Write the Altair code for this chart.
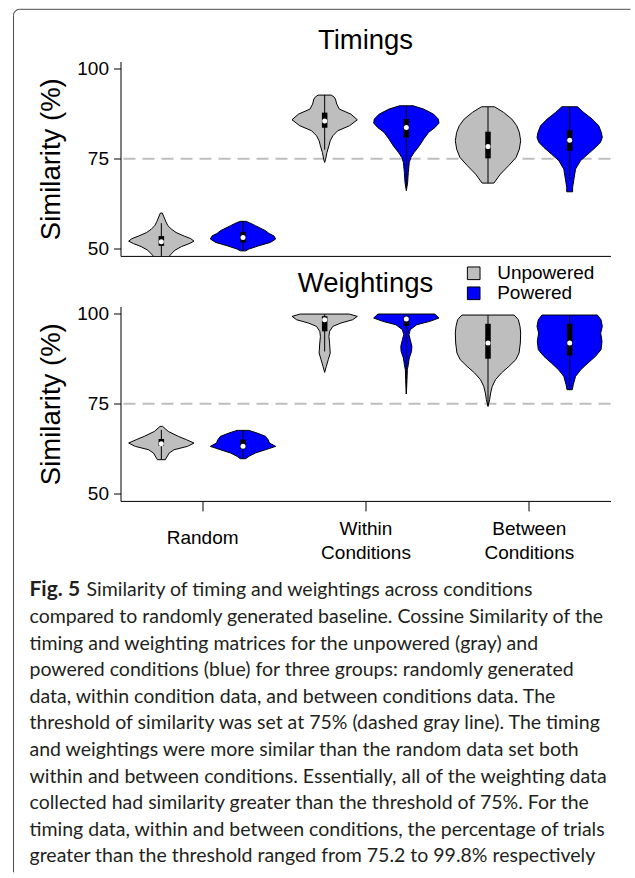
import altair as alt
import pandas as pd

GROUPS = ["Random", "Within Conditions", "Between Conditions"]
GROUP_TICKS = [1.5, 3.5, 5.5]
CONDITIONS = ["Unpowered", "Powered"]
FILLS = ["#BEBEBE", "#0000FF"]
Y_TICKS = [50, 75, 100]
THRESHOLD = 75
PANELS = ["Timings", "Weightings"]

# Violin outlines: (similarity %, relative half-width 0..1)
tim_random_unpowered = [(59.9, 0.03), (58.8, 0.08), (57.5, 0.14), (56.4, 0.2), (55.5, 0.3), (54.5, 0.45),
                        (53.5, 0.7), (52.8, 0.9), (52.1, 1.0), (51.4, 0.85), (50.6, 0.62), (49.6, 0.42),
                        (48.5, 0.3), (47.5, 0.2), (46.5, 0.1), (46.0, 0.02)]
tim_random_powered = [(57.6, 0.08), (57.2, 0.2), (56.4, 0.38), (55.0, 0.69), (54.2, 0.8), (53.6, 0.94),
                      (52.7, 1.0), (51.75, 0.84), (50.8, 0.48), (49.9, 0.18), (49.4, 0.08)]
tim_within_unpowered = [(92.67, 0.2), (92.2, 0.28), (91.56, 0.33), (90.17, 0.37), (88.78, 0.45), (87.39, 0.8),
                        (85.81, 1.0), (84.15, 0.76), (82.76, 0.40), (81.37, 0.25), (79.98, 0.17), (78.59, 0.13),
                        (76.74, 0.07), (74.89, 0.03), (73.97, 0.0)]
tim_within_powered = [(89.70, 0.21), (88.78, 0.53), (87.39, 0.83), (86.0, 0.98), (84.89, 1.0), (83.69, 0.88),
                      (82.30, 0.68), (80.44, 0.53), (78.59, 0.40), (76.74, 0.24), (75.35, 0.14), (73.96, 0.09),
                      (71.19, 0.06), (68.41, 0.04), (66.09, 0.0)]
tim_between_unpowered = [(89.43, 0.2), (87.85, 0.48), (86.0, 0.73), (84.15, 0.88), (82.30, 0.96), (79.98, 1.0),
                         (77.67, 0.96), (75.35, 0.86), (73.04, 0.63), (70.72, 0.38), (68.22, 0.18)]
tim_between_powered = [(89.43, 0.24), (87.85, 0.43), (86.0, 0.69), (84.15, 0.89), (82.30, 0.97), (80.91, 1.0),
                       (79.52, 0.94), (78.13, 0.79), (76.28, 0.56), (74.43, 0.33), (72.11, 0.18), (69.33, 0.13),
                       (67.02, 0.09), (65.81, 0.09)]

wei_random_unpowered = [(68.70, 0.04), (67.31, 0.21), (65.93, 0.52), (65.0, 0.77), (64.07, 1.0), (63.15, 0.8),
                        (62.22, 0.39), (61.30, 0.24), (60.19, 0.17), (59.44, 0.12)]
wei_random_powered = [(67.59, 0.18), (66.85, 0.43), (65.93, 0.69), (65.0, 0.77), (64.07, 0.81), (63.15, 1.0),
                      (62.22, 0.69), (61.30, 0.38), (60.37, 0.18), (59.72, 0.08)]
wei_within_unpowered = [(99.9, 0.75), (99.26, 1.0), (98.33, 0.86), (97.41, 0.5), (96.48, 0.25), (95.09, 0.15),
                        (93.70, 0.13), (91.85, 0.15), (89.07, 0.17), (87.22, 0.11), (85.37, 0.05), (83.70, 0.0)]
wei_within_powered = [(99.91, 0.87), (98.80, 1.0), (97.87, 0.72), (96.94, 0.32), (95.56, 0.12), (94.17, 0.08),
                      (92.78, 0.12), (90.93, 0.17), (89.54, 0.16), (87.69, 0.09), (85.83, 0.06), (84.44, 0.03),
                      (81.67, 0.02), (77.69, 0.0)]
wei_between_unpowered = [(99.63, 0.80), (98.33, 0.93), (96.48, 0.98), (94.63, 1.0), (91.85, 0.99), (89.07, 0.95),
                         (87.22, 0.85), (85.37, 0.64), (83.52, 0.41), (81.67, 0.23), (79.81, 0.13), (77.96, 0.08),
                         (76.11, 0.05), (74.26, 0.0)]
wei_between_powered = [(99.63, 0.85), (98.33, 0.96), (96.48, 1.0), (94.63, 0.95), (92.31, 0.99), (90.0, 0.96),
                       (88.15, 0.79), (86.30, 0.56), (84.44, 0.34), (82.59, 0.18), (80.28, 0.11), (78.89, 0.08)]

# Box-plot summaries, order: Random U/P, Within U/P, Between U/P
tim_median = [51.9, 53.1, 85.5, 83.7, 78.4, 80.1]
tim_q1 = [50.8, 51.75, 83.6, 80.9, 75.1, 77.2]
tim_q3 = [53.5, 54.6, 87.8, 86.0, 82.5, 82.9]
tim_wlo = [46.0, 49.4, 77.5, 67.0, 68.2, 68.9]
tim_whi = [57.1, 57.6, 92.7, 89.7, 89.4, 89.4]

wei_median = [63.9, 63.15, 98.3, 98.5, 91.85, 91.85]
wei_q1 = [63.3, 62.4, 95.1, 96.6, 87.5, 88.4]
wei_q3 = [65.2, 65.0, 99.3, 99.3, 97.2, 97.2]
wei_wlo = [59.6, 59.7, 89.5, 77.7, 74.3, 78.9]
wei_whi = [67.7, 67.6, 99.9, 99.9, 99.6, 99.6]

CAPTION_BOLD = "Fig. 5"
CAPTION_LINES = [
    "Similarity of timing and weightings across conditions",
    "compared to randomly generated baseline. Cossine Similarity of the",
    "timing and weighting matrices for the unpowered (gray) and",
    "powered conditions (blue) for three groups: randomly generated",
    "data, within condition data, and between conditions data. The",
    "threshold of similarity was set at 75% (dashed gray line). The timing",
    "and weightings were more similar than the random data set both",
    "within and between conditions. Essentially, all of the weighting data",
    "collected had similarity greater than the threshold of 75%. For the",
    "timing data, within and between conditions, the percentage of trials",
    "greater than the threshold ranged from 75.2 to 99.8% respectively",
]

FONT = "Liberation Sans"
CAP_FONT = "Lato"

profiles = {
    "Timings": [tim_random_unpowered, tim_random_powered, tim_within_unpowered,
                tim_within_powered, tim_between_unpowered, tim_between_powered],
    "Weightings": [wei_random_unpowered, wei_random_powered, wei_within_unpowered,
                   wei_within_powered, wei_between_unpowered, wei_between_powered],
}
summaries = {
    "Timings": (tim_median, tim_q1, tim_q3, tim_wlo, tim_whi),
    "Weightings": (wei_median, wei_q1, wei_q3, wei_wlo, wei_whi),
}

color_scale = alt.Scale(domain=CONDITIONS, range=FILLS)
x_scale = alt.Scale(domain=[0.5, 6.5], nice=False, zero=False)
y_scale = alt.Scale(domain=[48, 102], nice=False, zero=False)

W, H = 490, 194.4
one = alt.Data(values=[{"k": 0}])


def make_panel(name, show_x, legend, title_y):
    rows = []
    srows = []
    med, q1, q3, wlo, whi = summaries[name]
    for k, prof in enumerate(profiles[name]):
        c = k % 2
        for v, w in sorted(prof):
            rows.append({"vid": k, "pos": k + 1, "cond": CONDITIONS[c], "v": v, "w": w})
        srows.append({"pos": k + 1, "med": med[k], "q1": q1[k], "q3": q3[k], "lo": wlo[k], "hi": whi[k]})
    vdf = pd.DataFrame(rows)
    sdf = pd.DataFrame(srows)

    yaxis = alt.Axis(values=Y_TICKS, title="Similarity (%)", grid=False, labelFont=FONT, titleFont=FONT,
                     labelFontSize=19, titleFontSize=27.5, titleFontWeight="normal", tickSize=7,
                     labelPadding=5, titlePadding=11, labelColor="black", titleColor="black",
                     domainColor="black", tickColor="black")
    if show_x:
        expr = " : ".join(
            f"datum.value == {t} ? {lab.split(' ')}" for t, lab in zip(GROUP_TICKS[:-1], GROUPS[:-1])
        ) + f" : {GROUPS[-1].split(' ')}"
        single = " || ".join(f"datum.value == {t}" for t, lab in zip(GROUP_TICKS, GROUPS) if " " not in lab)
        xaxis = alt.Axis(values=GROUP_TICKS, labelExpr=expr, title=None, grid=False, tickSize=10,
                         labelPadding=17.5,
                         labelBaseline={"condition": {"test": single, "value": "top"}, "value": "middle"},
                         labelLineHeight=24,
                         labelFlush=False, labelOverlap=False, labelFont=FONT, labelFontSize=19,
                         labelColor="black", domainColor="black", tickColor="black")
    else:
        xaxis = alt.Axis(ticks=False, labels=False, title=None, grid=False, domain=True, domainColor="black")

    thr = alt.Chart(pd.DataFrame({"t": [THRESHOLD]})).mark_rule(
        color="#BEBEBE", strokeWidth=2, strokeDash=[12, 7]
    ).encode(y=alt.Y("t:Q", scale=y_scale, axis=yaxis))

    vio = alt.Chart(vdf).transform_calculate(
        left="datum.pos - 0.4 * datum.w", right="datum.pos + 0.4 * datum.w"
    ).mark_area(orient="horizontal", stroke="black", strokeWidth=1, fillOpacity=1, clip=True,
                interpolate="linear").encode(
        y=alt.Y("v:Q", scale=y_scale, axis=yaxis),
        x=alt.X("left:Q", scale=x_scale, axis=xaxis),
        x2="right:Q",
        color=alt.Color("cond:N", scale=color_scale, legend=legend),
        detail="vid:N",
    )

    base = alt.Chart(sdf)
    whisk = base.mark_rule(color="black", strokeWidth=1, clip=True).encode(
        x=alt.X("pos:Q", scale=x_scale, axis=xaxis),
        y=alt.Y("lo:Q", scale=y_scale, axis=yaxis), y2="hi:Q")
    box = base.mark_rule(color="black", strokeWidth=5.5, strokeCap="butt").encode(
        x=alt.X("pos:Q", scale=x_scale, axis=xaxis),
        y=alt.Y("q1:Q", scale=y_scale, axis=yaxis), y2="q3:Q")
    dot = base.mark_point(filled=True, color="white", size=25, opacity=1).encode(
        x=alt.X("pos:Q", scale=x_scale, axis=xaxis),
        y=alt.Y("med:Q", scale=y_scale, axis=yaxis))

    title = alt.Chart(one).mark_text(font=FONT, fontSize=27.5, color="black", align="center",
                                     baseline="alphabetic").encode(
        x=alt.value(W / 2), y=alt.value(title_y), text=alt.value(name))

    return alt.layer(thr, vio, whisk, box, dot, title).properties(width=W, height=H)


legend = alt.Legend(orient="none", legendX=343.7, legendY=-42.7, title=None, symbolType="square",
                    symbolSize=160, symbolStrokeColor="black", symbolStrokeWidth=1, symbolOpacity=1,
                    labelFontSize=19, labelFont=FONT, labelColor="black", labelOffset=14,
                    rowPadding=0, padding=0)

top = make_panel("Timings", False, None, -13)
bottom = make_panel("Weightings", True, legend, -14.5)

# caption view
cap_df = pd.DataFrame({"line": list(range(len(CAPTION_LINES))), "text": CAPTION_LINES})
cap_y = alt.Y("line:Q", scale=alt.Scale(domain=[0, 10], range=[38.8, 304.8]), axis=None)
cap_rest = alt.Chart(cap_df).transform_filter("datum.line > 0").mark_text(
    align="left", baseline="middle", font=CAP_FONT, fontSize=19.5, color="#231F20"
).encode(x=alt.value(-91), y=cap_y, text="text:N")
cap_first = alt.Chart(cap_df).transform_filter("datum.line == 0").mark_text(
    align="left", baseline="middle", font=CAP_FONT, fontSize=19.5, color="#231F20"
).encode(x=alt.value(-34), y=cap_y, text="text:N")
cap_bold = alt.Chart(pd.DataFrame({"line": [0], "text": [CAPTION_BOLD]})).mark_text(
    align="left", baseline="middle", font=CAP_FONT, fontSize=21, fontWeight="bold", color="#231F20"
).encode(x=alt.value(-91), y=cap_y, text="text:N")

frame_col = "#4d4d4d"
frame_left = alt.Chart(one).mark_rule(color=frame_col, strokeWidth=1).encode(
    x=alt.value(-107), y=alt.value(-536.2), y2=alt.value(320.8))
frame_top = alt.Chart(one).mark_rule(color=frame_col, strokeWidth=1).encode(
    y=alt.value(-542.2), x=alt.value(-101), x2=alt.value(510))
frame_corner = alt.Chart(one).mark_arc(color=frame_col).encode(
    x=alt.value(-101), y=alt.value(-536.2), theta=alt.value(4.712389), theta2=alt.value(6.283185),
    radius=alt.value(6.5), radius2=alt.value(5.5))

caption = alt.layer(cap_rest, cap_first, cap_bold, frame_left, frame_top, frame_corner).properties(
    width=W, height=305)

chart = alt.vconcat(top, bottom, caption, spacing=50, bounds="flush").resolve_legend(
    color="independent"
).properties(
    padding={"left": 12.5, "top": 8.5, "right": 0, "bottom": 0}, background="white"
).configure(font=FONT).configure_view(stroke=None)

chart.save("out.html", embed_options={"renderer": "svg", "actions": False})
